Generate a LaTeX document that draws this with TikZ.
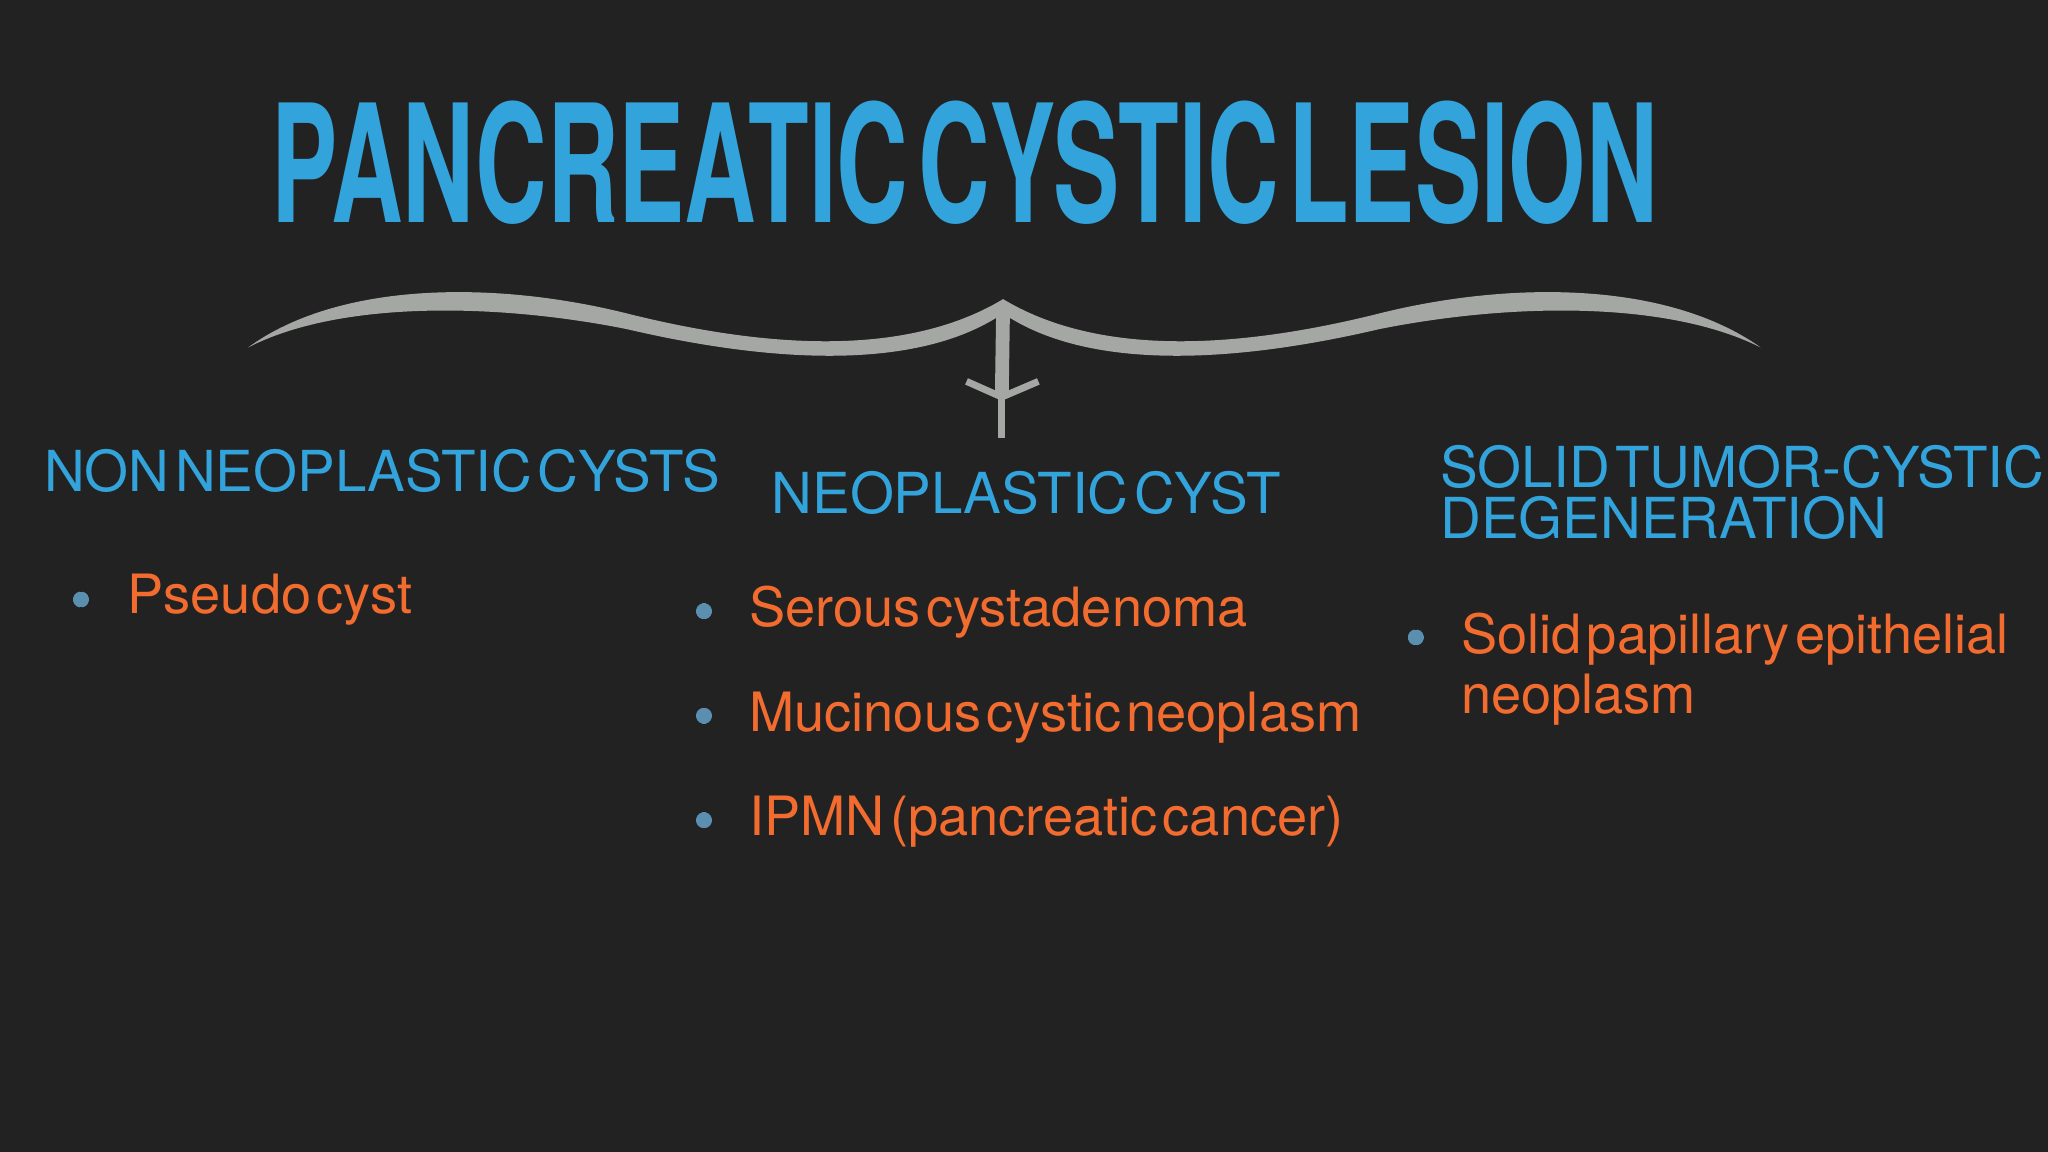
\documentclass[tikz,border=0pt]{standalone}
\usepackage{fontspec}
\setmainfont[WordSpace={0.35}]{TeX Gyre Heros}
\begin{document}
\begin{tikzpicture}[x=0.01cm,y=-0.01cm]
\definecolor{bg}{HTML}{222222}
\definecolor{tblue}{HTML}{33A3DC}
\definecolor{torange}{HTML}{F26B2F}
\definecolor{bgray}{HTML}{A5A7A5}
\definecolor{bul}{HTML}{5A8FB0}
\tikzset{head/.style={text=tblue,font=\fontsize{12.3}{14}\selectfont,anchor=base west,inner sep=0pt},
 item/.style={text=torange,font=\fontsize{11.8}{14}\selectfont,anchor=base west,inner sep=0pt},
 bulletstar/.pic={\foreach \a in {0,22.5,...,157.5}{\draw[bul,line width=0.7pt] (\a:6) -- (\a+180:6);}}}
\fill[bg] (0,0) rectangle (1568,882);
\useasboundingbox (0,0) rectangle (1568,882);
\node[text=tblue,anchor=base west,inner sep=0pt] (title) at (207,170) {\resizebox{10.61cm}{0.93cm}{\bfseries PANCREATIC CYSTIC LESION}};
% brace
\fill[bgray] (190,266) .. controls (260,215) and (380,215) .. (480,240) .. controls (600,270) and (700,270) .. (768,229)
 .. controls (836,270) and (936,270) .. (1056,240) .. controls (1156,215) and (1276,215) .. (1348,266)
 .. controls (1276,230) and (1156,232) .. (1056,252) .. controls (936,280) and (830,282) .. (768,240)
 .. controls (706,282) and (600,280) .. (480,252) .. controls (380,232) and (260,230) .. cycle;
\coordinate (top) at (768,235);
\coordinate (bot) at (767,335);
\coordinate (fork) at (767,304);
\coordinate (fl) at (740,292);
\coordinate (fr) at (795,292);
\draw[bgray,line width=3pt] (top) -- (fork);
\draw[bgray,line width=1.5pt] (fork) -- (bot);
\draw[bgray,line width=1.5pt] (fl) -- (fork) -- (fr);
% headings
\node[head] (h1) at (33,376) {NON NEOPLASTIC CYSTS};
\node[head] (h2) at (590,393) {NEOPLASTIC CYST};
\node[head] (h3) at (1102,373) {SOLID TUMOR-CYSTIC};
\node[head] (h3b) at (1102,412) {DEGENERATION};
% items
\pic at (62,459) {bulletstar};
\node[item] (i1) at (97,470) {Pseudo cyst};
\pic at (539,468) {bulletstar};
\node[item] (i2) at (573,480) {Serous cystadenoma};
\pic at (539,548) {bulletstar};
\node[item] (i3) at (573,560) {Mucinous cystic neoplasm};
\pic at (539,628) {bulletstar};
\node[item] (i4) at (573,640) {IPMN (pancreatic cancer)};
\pic at (1084,488) {bulletstar};
\node[item] (i5) at (1118,500) {Solid papillary epithelial};
\node[item] (i6) at (1118,546) {neoplasm};
\end{tikzpicture}
\end{document}
